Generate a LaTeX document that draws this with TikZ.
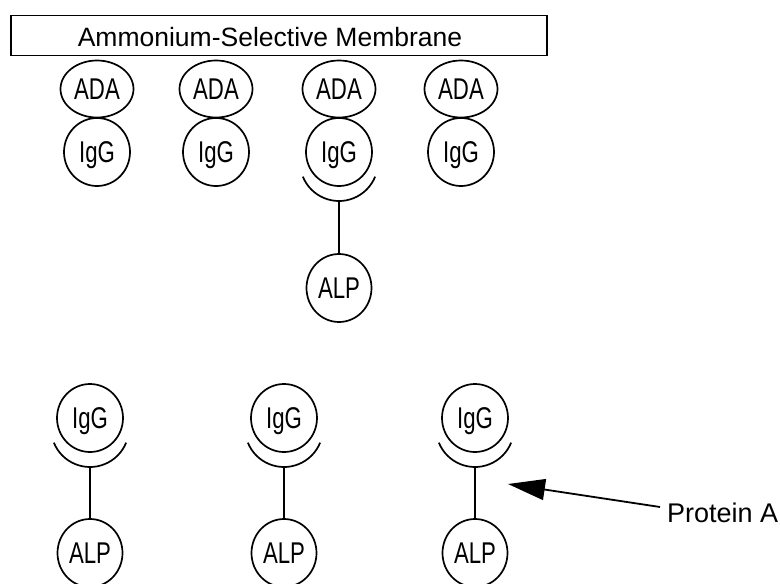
\documentclass[tikz,border=0pt]{standalone}
\usepackage{fontspec}
\setmainfont{Liberation Sans}
\usetikzlibrary{arrows.meta,shapes.geometric,calc}
\newcommand\molname[1]{\scalebox{0.74}[1]{#1}}
\begin{document}
\begin{tikzpicture}[x=1pt,y=-1pt,
  mol/.style={ellipse, draw, line width=1.7pt, inner sep=0pt,
    font=\fontsize{30}{30}\selectfont, text height=21.5pt, text depth=0pt},
  ada/.style={mol, minimum width=73pt, minimum height=57pt},
  igg/.style={mol, minimum width=66pt, minimum height=68pt},
  alp/.style={mol, minimum width=65pt, minimum height=68pt},
  cupline/.style={line width=1.7pt},
  link/.style={line width=1.5pt},
  lbl/.style={inner sep=0pt, text depth=0pt}
]
\useasboundingbox (0,0) rectangle (780,584);

% membrane
\node[draw, line width=1.6pt, minimum width=536pt, minimum height=40pt, inner sep=0pt]
  (mem) at (279,35.5) {};
\node[lbl, font=\fontsize{26.5}{26.5}\selectfont, text height=19pt]
  (memlbl) at (270,36.5) {Ammonium-Selective Membrane};

% top row
\foreach \i/\x in {1/97,2/216,3/339,4/461}{
  \node[ada] (a\i) at (\x,89) {\molname{ADA}};
  \node[igg] (g\i) at (\x,152) {\molname{IgG}};
}
\node[alp] (p3) at (339,288) {\molname{ALP}};

% bottom row
\foreach \i/\x in {5/90,6/284,7/475}{
  \node[igg] (g\i) at (\x,418) {\molname{IgG}};
  \node[alp] (p\i) at (\x,553) {\molname{ALP}};
}

% protein A cups and links
\foreach \i in {3,5,6,7}{
  \coordinate (cc\i) at ($(g\i.center)+(0,10)$);
  \coordinate (cb\i) at ($(g\i.center)+(0,49)$);
  \draw[cupline] ([shift={(202:39pt)}]cc\i) arc[start angle=202, end angle=338, radius=39pt];
  \draw[link] (cb\i) -- (p\i.north);
}

% Protein A label and arrow
\node[lbl, font=\fontsize{27}{27}\selectfont, text height=19.5pt, anchor=west]
  (prot) at (667,513) {Protein A};
\coordinate (tip) at (508,484);
\draw[line width=1.8pt, -{Triangle[length=37pt,width=21pt]}]
  ($(prot.west)+(-7,-6)$) -- (tip);
\end{tikzpicture}
\end{document}
